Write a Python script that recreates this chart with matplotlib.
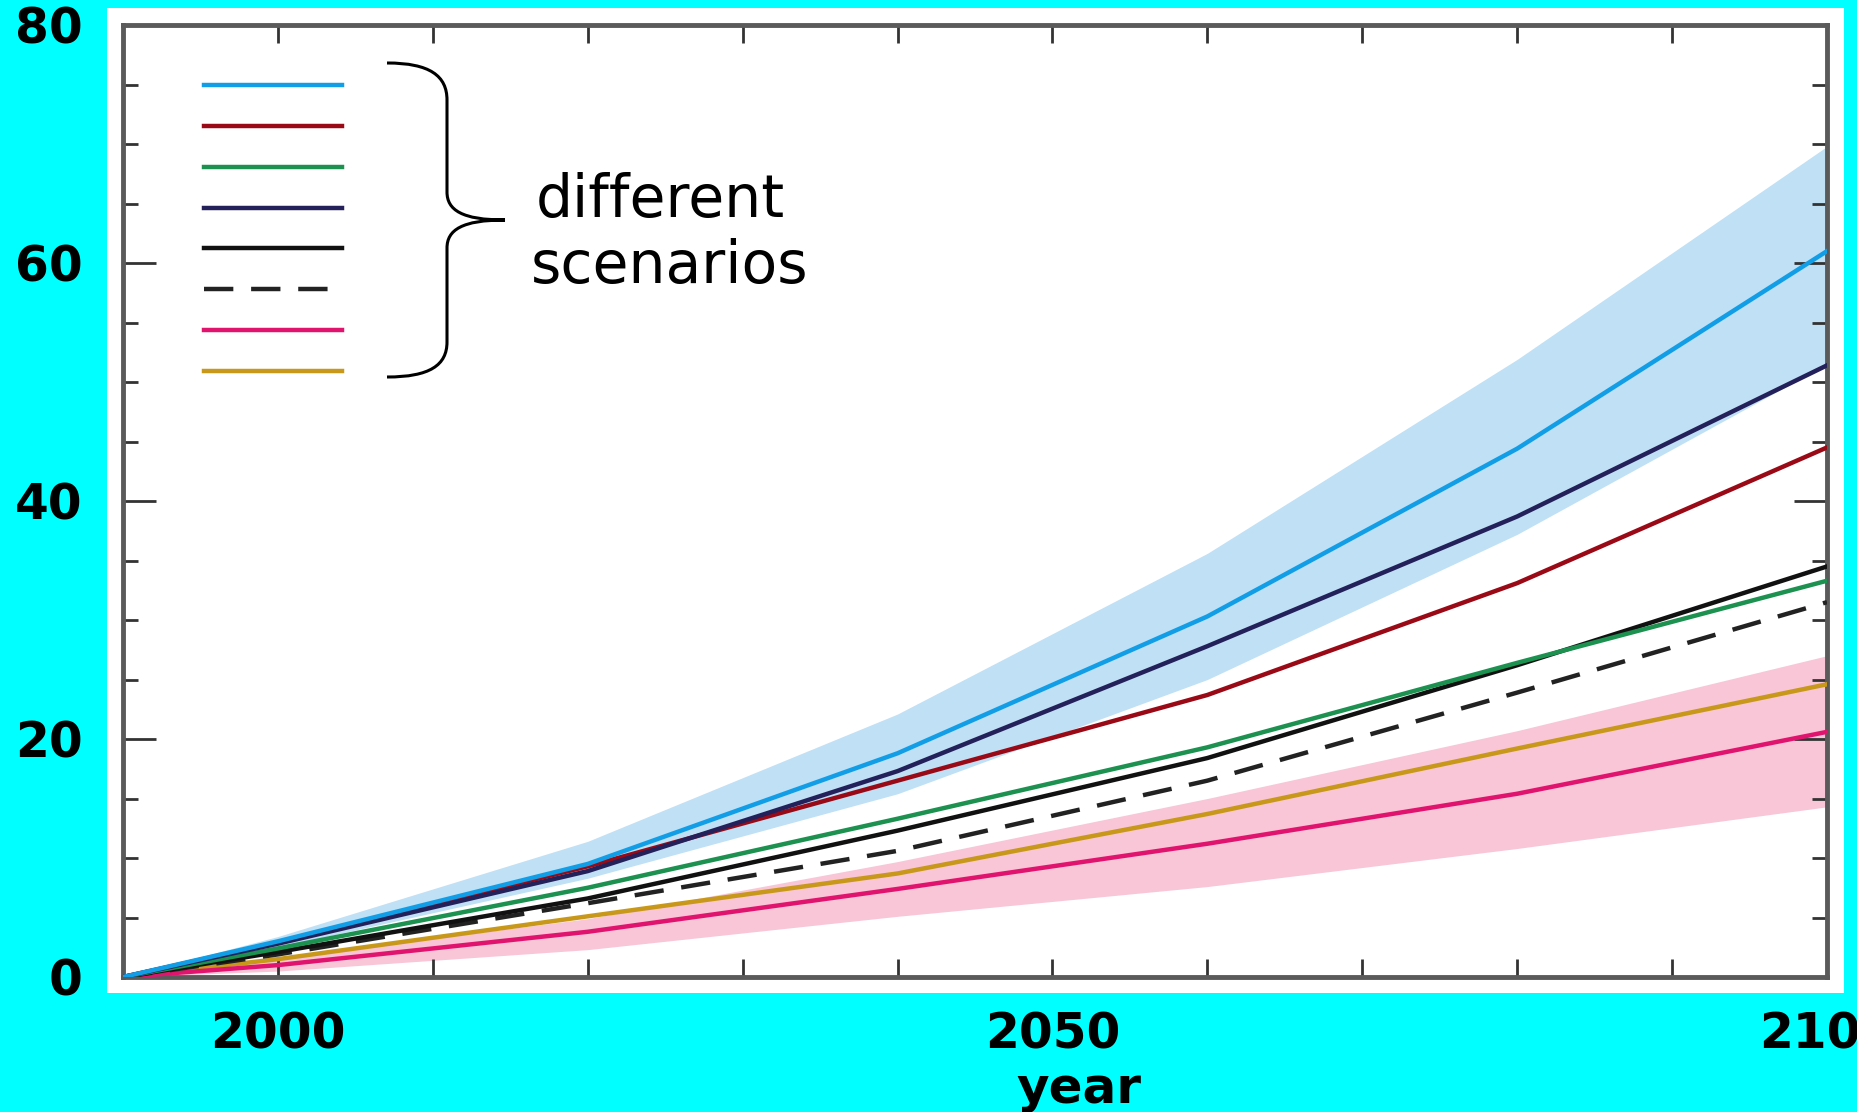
import matplotlib
matplotlib.use('Agg')
import matplotlib.pyplot as plt
from matplotlib.path import Path
from matplotlib.patches import PathPatch, Rectangle
from matplotlib.ticker import MultipleLocator

# ---------------- data ----------------
years    = [1990, 2000, 2020, 2040, 2060, 2080, 2100]
blue     = [0, 3.0, 9.5, 18.8, 30.3, 44.4, 61.0]
blue_hi  = [0, 3.4, 11.4, 22.1, 35.6, 51.9, 69.8]
blue_lo  = [0, 2.5, 8.3, 15.4, 25.0, 37.2, 51.5]
navy     = [0, 2.8, 8.9, 17.3, 27.8, 38.7, 51.4]
red      = [0, 2.9, 9.3, 16.5, 23.7, 33.1, 44.5]
green    = [0, 2.4, 7.5, 13.3, 19.3, 26.4, 33.3]
black    = [0, 2.1, 6.6, 12.3, 18.4, 26.2, 34.5]
dashed   = [0, 1.9, 6.2, 10.6, 16.5, 23.9, 31.5]
gold     = [0, 1.5, 5.1, 8.7, 13.7, 19.2, 24.6]
magenta  = [0, 1.0, 3.8, 7.4, 11.2, 15.4, 20.6]
pink_hi  = [0, 1.6, 4.9, 9.7, 15.0, 20.7, 27.0]
pink_lo  = [0, 0.5, 2.3, 5.1, 7.6, 10.8, 14.3]

x_major = [2000, 2050, 2100]
x_labels = ['2000', '2050', '2100']
y_major = [0, 20, 40, 60, 80]
y_labels = ['0', '20', '40', '60', '80']

# ---------------- figure ----------------
W, H = 1858, 1112
fig = plt.figure(figsize=(W / 100, H / 100), dpi=100, facecolor='#00ffff')


def P(x, y):
    return (x / W, 1 - y / H)


panel = Rectangle(P(107, 993), (1844 - 107) / W, (993 - 8) / H,
                  transform=fig.transFigure, facecolor='white',
                  edgecolor='none', zorder=-5)
fig.add_artist(panel)

ax = fig.add_axes([123 / W, 1 - 977 / H, (1827 - 123) / W, (977 - 25) / H])
ax.set_facecolor('white')

lw = 3.2
ax.fill_between(years, blue_lo, blue_hi, color='#bfe0f5', lw=0, zorder=1)
ax.fill_between(years, pink_lo, pink_hi, color='#f8c6d6', lw=0, zorder=1)

h_gold, = ax.plot(years, gold, color='#c8981a', lw=lw, zorder=3)
h_mag, = ax.plot(years, magenta, color='#e0146e', lw=lw, zorder=3)
h_dash, = ax.plot(years, dashed, color='#222222', lw=lw, dashes=(6.6, 4.0), zorder=3)
h_black, = ax.plot(years, black, color='#111111', lw=lw, zorder=3)
h_green, = ax.plot(years, green, color='#1c9150', lw=lw, zorder=3)
h_red, = ax.plot(years, red, color='#9a0a16', lw=lw, zorder=3)
h_navy, = ax.plot(years, navy, color='#23205a', lw=lw, zorder=3)
h_blue, = ax.plot(years, blue, color='#119ee6', lw=lw, zorder=3)

handles = [h_blue, h_red, h_green, h_navy, h_black, h_dash, h_mag, h_gold]
ax.legend(handles, [''] * len(handles), loc='upper left',
          bbox_to_anchor=((204 - 123) / 1704, (977 - 73) / 952),
          frameon=False, fontsize=20, handlelength=4.96, handletextpad=0,
          labelspacing=0.46, borderpad=0, borderaxespad=0)

ax.set_xlim(1990, 2100)
ax.set_ylim(0, 80)

tick_font = dict(family='DejaVu Sans', weight='bold', size=35)
ax.set_xticks(x_major)
ax.set_xticklabels(x_labels, fontdict=tick_font)
ax.set_xticks(range(1990, 2101, 10), minor=True)
ax.set_yticks(y_major)
ax.set_yticklabels(y_labels, fontdict=tick_font)
ax.yaxis.set_minor_locator(MultipleLocator(5))

ax.tick_params(axis='x', which='both', direction='in', length=13, width=2,
               color='#333333', top=True, bottom=True, pad=24)
ax.tick_params(axis='y', which='major', direction='in', length=24, width=2,
               color='#333333', left=True, right=True, pad=29)
ax.tick_params(axis='y', which='minor', direction='in', length=11, width=2,
               color='#333333', left=True, right=True)

for s in ax.spines.values():
    s.set_color('#5a5a5a')
    s.set_linewidth(3.5)

ax.set_xlabel('year', fontdict=dict(family='DejaVu Sans', weight='bold', size=36))
ax.xaxis.label.set_va('baseline')
ax.xaxis.set_label_coords((1079 - 123) / 1704, (977 - 1103) / 952)

# brace
verts = [P(387, 63), P(430, 63), P(447, 76), P(447, 100),
         P(447, 192),
         P(447, 210), P(462, 220), P(505, 220),
         P(462, 220), P(447, 230), P(447, 248),
         P(447, 342),
         P(447, 365), P(430, 377), P(387, 377)]
codes = [Path.MOVETO, Path.CURVE4, Path.CURVE4, Path.CURVE4,
         Path.LINETO,
         Path.CURVE4, Path.CURVE4, Path.CURVE4,
         Path.CURVE4, Path.CURVE4, Path.CURVE4,
         Path.LINETO,
         Path.CURVE4, Path.CURVE4, Path.CURVE4]
fig.add_artist(PathPatch(Path(verts, codes), transform=fig.transFigure,
                         facecolor='none', edgecolor='black', lw=2.2, zorder=5))

txt = dict(family='DejaVu Sans', size=42, color='black', ha='center', va='baseline')
fig.text(*P(660, 217), 'different', **txt)
fig.text(*P(670, 283), 'scenarios', **txt)

fig.savefig('out.png', dpi=100, facecolor=fig.get_facecolor())
